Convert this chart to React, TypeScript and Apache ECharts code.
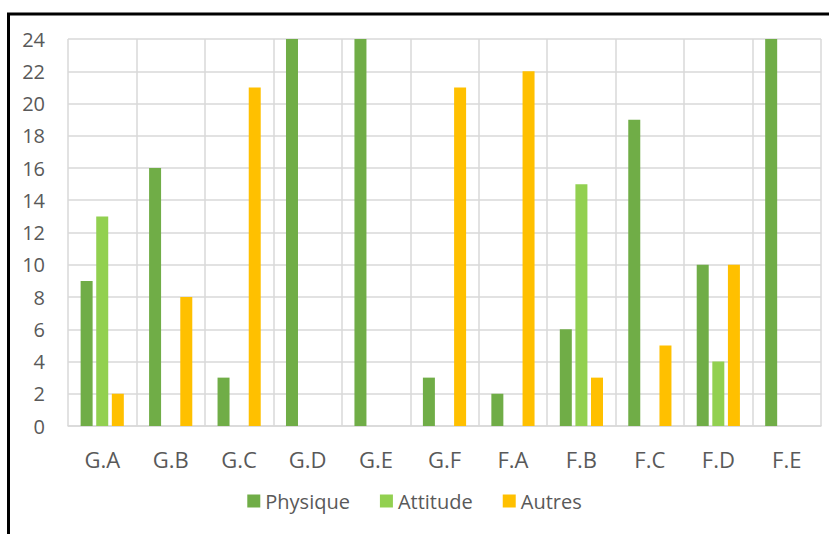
import React, { useEffect, useRef } from "react";
import * as echarts from "echarts";

const categories = ["G.A", "G.B", "G.C", "G.D", "G.E", "G.F", "F.A", "F.B", "F.C", "F.D", "F.E"];
const physique = [9, 16, 3, 24, 24, 3, 2, 6, 19, 10, 24];
const attitude = [13, 0, 0, 0, 0, 0, 0, 15, 0, 4, 0];
const autres = [2, 8, 21, 0, 0, 21, 22, 3, 5, 10, 0];
const seriesNames = ["Physique", "Attitude", "Autres"];
const colors = ["#70AD47", "#92D050", "#FFC000"];

export default function App() {
  const ref = useRef<HTMLDivElement>(null);
  useEffect(() => {
    document.body.style.margin = "0";
    const chart = echarts.init(ref.current!, null, { renderer: "svg" });
    const font = "'Open Sans', Carlito, Calibri, sans-serif";
    const dataSets = [physique, attitude, autres];
    chart.setOption({
      animation: false,
      textStyle: { fontFamily: font },
      graphic: [
        {
          type: "rect",
          shape: { x: 8.5, y: 14, width: 900, height: 600 },
          style: { fill: "none", stroke: "#000", lineWidth: 3 },
          silent: true,
        },
      ],
      legend: {
        data: seriesNames,
        top: 486,
        left: "center",
        itemWidth: 13,
        itemHeight: 13,
        itemGap: 30,
        icon: "rect",
        textStyle: { color: "#595959", fontSize: 20, fontFamily: font },
      },
      grid: { left: 68, right: 8, top: 39, bottom: 108, containLabel: false },
      xAxis: {
        type: "category",
        data: categories,
        boundaryGap: true,
        axisLine: { show: true, lineStyle: { color: "#D9D9D9", width: 1.5 } },
        axisTick: { show: false },
        splitLine: { show: true, lineStyle: { color: "#D9D9D9", width: 1.5 } },
        axisLabel: { color: "#595959", fontSize: 22, margin: 22, fontFamily: font },
      },
      yAxis: {
        type: "value",
        min: 0,
        max: 24,
        interval: 2,
        axisLine: { show: false },
        axisTick: { show: false },
        splitLine: { show: true, lineStyle: { color: "#D9D9D9", width: 1.5 } },
        axisLabel: { color: "#595959", fontSize: 20, margin: 23, fontFamily: font },
      },
      series: seriesNames.map((name, i) => ({
        name,
        type: "bar",
        data: dataSets[i],
        barWidth: 12,
        barGap: "30%",
        itemStyle: { color: colors[i] },
      })),
    });
    return () => chart.dispose();
  }, []);
  return <div ref={ref} style={{ width: 829, height: 534 }} />;
}
